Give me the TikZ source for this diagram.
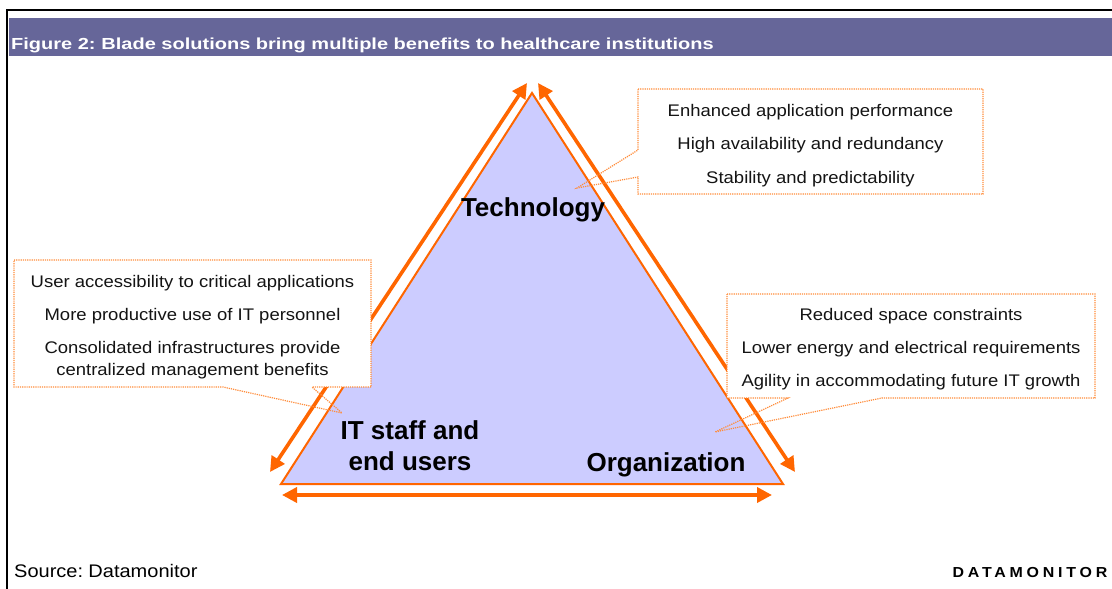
\documentclass[tikz,border=0pt]{standalone}
\usepackage{fontspec}
\setmainfont{Liberation Sans}
\newfontfamily\bodyfont{Liberation Sans}[FakeStretch=1.1]
\newfontfamily\titlefont{Liberation Sans}[FakeStretch=1.25]
\newfontfamily\brandfont{Liberation Sans}[FakeStretch=1.1,LetterSpace=26]
\usetikzlibrary{arrows.meta}
\definecolor{dmorange}{HTML}{FF6600}
\definecolor{dmdots}{HTML}{FF8C3A}
\definecolor{dmlilac}{HTML}{CCCCFF}
\definecolor{dmpurple}{HTML}{666699}
\definecolor{dmtext}{HTML}{141414}
\tikzset{
  frameline/.style={line width=2.6pt, black},
  tri/.style={fill=dmlilac, draw=dmorange, line width=2pt, line join=miter},
  twoway/.style={draw=dmorange, line width=3.6pt,
    {Triangle[length=15pt,width=15pt]}-{Triangle[length=15pt,width=15pt]}},
  callout/.style={draw=dmdots, line width=1.2pt, dash pattern=on 1.2pt off 1pt},
  boxtext/.style={inner sep=0pt, anchor=base, text=dmtext,
    font=\bodyfont\fontsize{16.8}{20}\selectfont},
  cornerlabel/.style={inner sep=0pt, anchor=base, text=black,
    font=\bfseries\fontsize{26}{31}\selectfont},
}
\begin{document}
\begin{tikzpicture}[x=1pt,y=-1pt]
\useasboundingbox (0,0) rectangle (1112,589);
\fill[white] (0,0) rectangle (1112,589);

% frame and title band
\draw[frameline] (6,10) -- (1112,10);
\draw[line width=2pt, black] (7,9) -- (7,589);
\fill[dmpurple] (9,18) rectangle (1112,56);
\node[inner sep=0pt, anchor=base west, text=white,
      font=\titlefont\bfseries\fontsize{16}{19}\selectfont] (title) at (11,49)
  {Figure 2:\hspace{-0.1em} Blade solutions bring multiple benefits to healthcare institutions};

% the triangle
\coordinate (apex) at (532,93);
\coordinate (bl) at (281,484);
\coordinate (br) at (783,484);
\draw[tri] (apex) -- (bl) -- (br) -- cycle;

% double-headed arrows along the sides
\coordinate (la1) at (270,472);
\coordinate (la2) at (527,83);
\coordinate (ra1) at (538,83);
\coordinate (ra2) at (795,472);
\coordinate (ba1) at (282,495);
\coordinate (ba2) at (772,495);
\draw[twoway] (la1) -- (la2);
\draw[twoway] (ra1) -- (ra2);
\draw[twoway] (ba1) -- (ba2);

% corner labels
\node[cornerlabel] (tech) at (533,216) {Technology};
\node[cornerlabel] (staff1) at (410,439) {IT staff and};
\node[cornerlabel] (staff2) at (410,470) {end users};
\node[cornerlabel] (org) at (666,471) {Organization};

% callout: technology
\coordinate (tt) at (577,188);
\fill[white] (638,89) rectangle (983,194);
\draw[callout] (638,89) -- (983,89) -- (983,194) -- (638,194) -- (638,177)
  -- (tt) -- (638,150) -- cycle;
\node[boxtext] (t1) at (810.5,116) {Enhanced application performance};
\node[boxtext] (t2) at (810.5,149.5) {High availability and redundancy};
\node[boxtext] (t3) at (810.5,183) {Stability and predictability};

% callout: staff and users
\coordinate (st) at (342,413);
\fill[white] (14,260) rectangle (371,387);
\draw[callout] (14,260) -- (371,260) -- (371,387) -- (312,387) -- (st)
  -- (223,387) -- (14,387) -- cycle;
\node[boxtext] (s1) at (192.5,287) {User accessibility to critical applications};
\node[boxtext] (s2) at (192.5,320) {More productive use of IT personnel};
\node[boxtext] (s3) at (192.5,353) {Consolidated infrastructures provide};
\node[boxtext] (s4) at (192.5,375) {centralized management benefits};

% callout: organization
\coordinate (ot) at (715,432);
\fill[white] (727,294) rectangle (1095,398);
\draw[callout] (727,294) -- (1095,294) -- (1095,398) -- (882,398) -- (ot)
  -- (788,398) -- (727,398) -- cycle;
\node[boxtext] (o1) at (911,320) {Reduced space constraints};
\node[boxtext] (o2) at (911,353) {Lower energy and electrical requirements};
\node[boxtext] (o3) at (911,386) {Agility in accommodating future IT growth};

% footer
\node[inner sep=0pt, anchor=base west, text=black,
      font=\bodyfont\fontsize{18.2}{22}\selectfont] (src) at (14,577)
  {Source:\hspace{-0.12em} Datamonitor};
\node[inner sep=0pt, anchor=base east, text=black,
      font=\brandfont\bfseries\fontsize{14.5}{17}\selectfont] (brand) at (1107.5,577)
  {DATAMONITOR};
\end{tikzpicture}
\end{document}
